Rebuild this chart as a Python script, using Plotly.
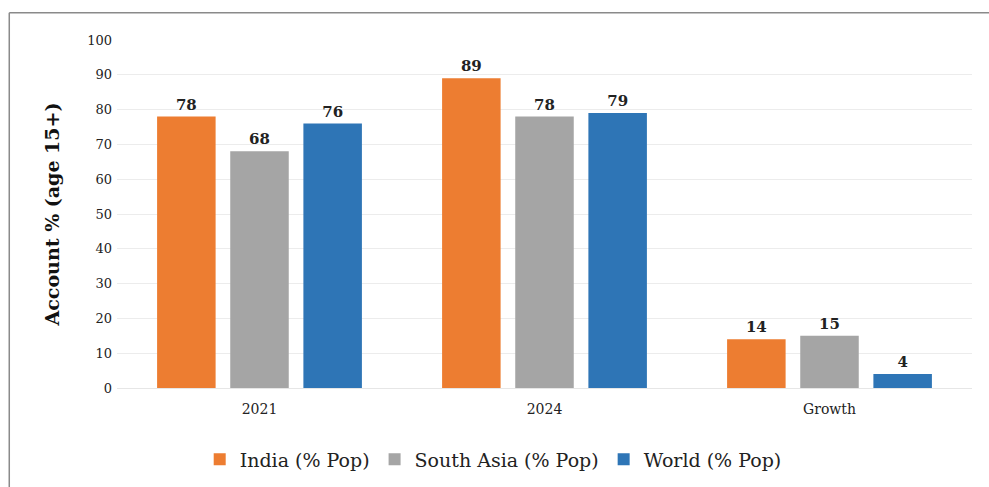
import plotly.graph_objects as go

categories = ["2021", "2024", "Growth"]
india = [78, 89, 14]
south_asia = [68, 78, 15]
world = [76, 79, 4]
series_names = ["India (% Pop)", "South Asia (% Pop)", "World (% Pop)"]
colors = ["#ED7D31", "#A5A5A5", "#2E75B6"]
y_ticks = [0, 10, 20, 30, 40, 50, 60, 70, 80, 90, 100]

FONT = "DejaVu Serif"

fig = go.Figure()
for name, vals, col in zip(series_names, [india, south_asia, world], colors):
    fig.add_trace(go.Bar(
        x=categories, y=vals, name=name, marker=dict(color=col, line=dict(width=0)),
        text=[str(v) for v in vals], textposition="outside",
        textfont=dict(family=FONT, size=15, color="#222222", weight="bold"),
        cliponaxis=False,
    ))

fig.update_layout(
    width=989, height=487,
    margin=dict(l=117, r=17, t=40, b=99, autoexpand=False),
    paper_bgcolor="white", plot_bgcolor="white",
    barmode="group", bargap=0.23, bargroupgap=0.2,
    font=dict(family=FONT, color="#222222"),
    showlegend=True,
    legend=dict(orientation="h", x=0.44, xanchor="center", y=-0.205, yanchor="middle",
                font=dict(family=FONT, size=19, color="#222222"),
                itemwidth=30, traceorder="normal"),
    shapes=[
        dict(type="line", xref="paper", yref="paper", x0=-0.126, x1=1.03, y0=1.078, y1=1.078,
             line=dict(color="#8a8a8a", width=1.5)),
        dict(type="line", xref="paper", yref="paper", x0=-0.126, x1=-0.126, y0=1.078, y1=-0.29,
             line=dict(color="#8a8a8a", width=1.5)),
    ],
)
fig.update_xaxes(showline=True, linecolor="#e6e6e6", linewidth=1, ticklabelstandoff=8,
                 automargin=False,
                 tickfont=dict(family=FONT, size=14, color="#222222"), ticks="")
fig.update_yaxes(range=[0, 100], tickvals=y_ticks, showgrid=True, gridcolor="#ececec",
                 zeroline=False, ticklabelstandoff=4, automargin=False,
                 tickfont=dict(family=FONT, size=13, color="#222222"),
                 title=dict(text="<b>Account % (age 15+)</b>", font=dict(family=FONT, size=19, color="#111111"), standoff=22))

fig.write_html("out.html")
